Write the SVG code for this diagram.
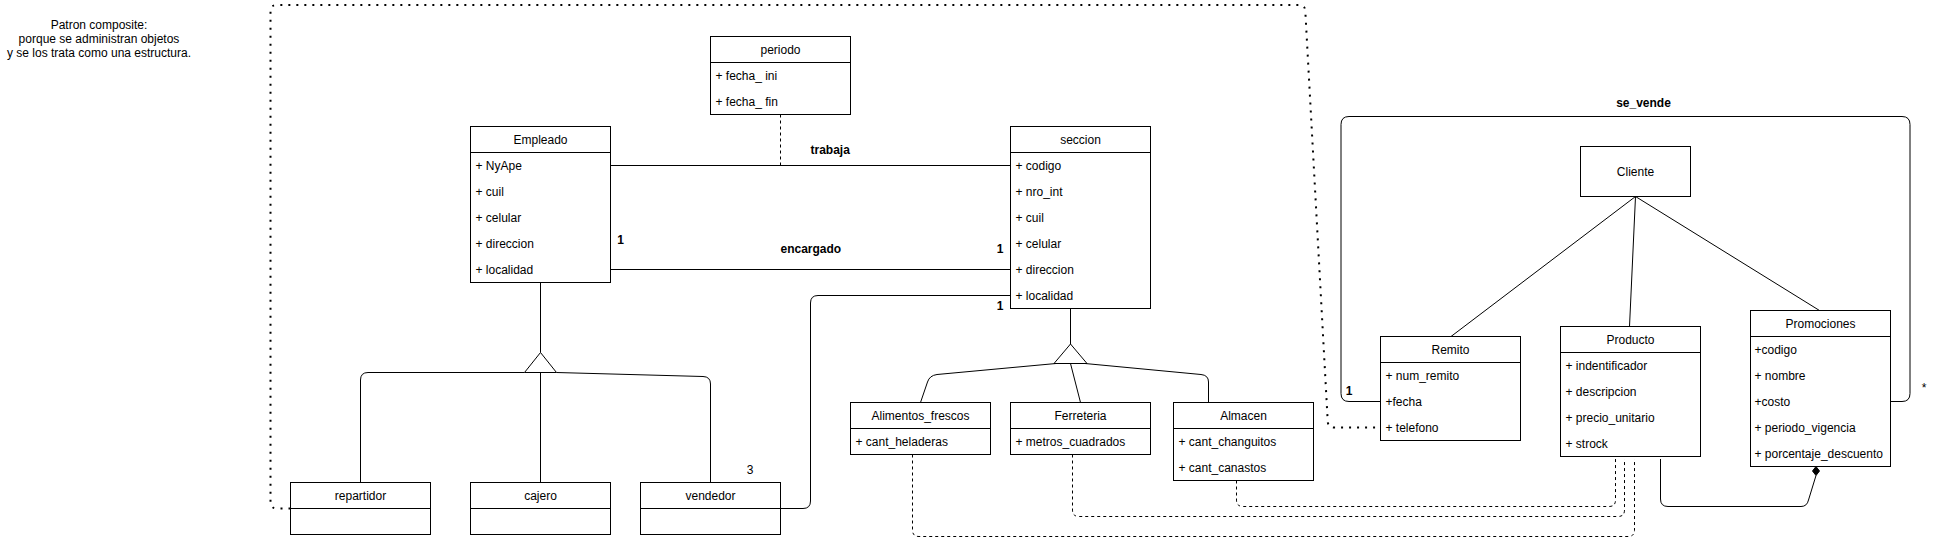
<svg xmlns="http://www.w3.org/2000/svg" width="1942" height="538" viewBox="0 0 1942 538">
<style>
text{font-family:"Liberation Sans",Arial,Helvetica,sans-serif;font-size:12px;fill:#000}
.h{text-anchor:middle}
.b{font-weight:bold}
.box{fill:#fff;stroke:#000;stroke-width:1}
.div{stroke:#000;stroke-width:1}
.ln{fill:none;stroke:#000;stroke-width:1}
.dash{fill:none;stroke:#000;stroke-width:1;stroke-dasharray:3 3}
.dot{fill:none;stroke:#000;stroke-width:2;stroke-dasharray:2 6}
.tri{fill:#fff;stroke:#000;stroke-width:1}
</style>
<rect width="1942" height="538" fill="#fff"/>
<text class="h" x="99" y="29">Patron composite:</text>
<text class="h" x="99" y="43">porque se administran objetos</text>
<text class="h" x="99" y="57">y se los trata como una estructura.</text>

<g id="connectors">
<path class="dot" d="M290.5,508.5 L277,508.5 Q270.5,508.5 270.5,502 L270.5,11 Q270.5,5 277,5 L1299,5 Q1305,5 1305.3,11 L1327.7,421 Q1328,427.5 1334,427.5 L1380.5,427.5"/>
<path class="ln" d="M610.5,165.5 L1010.5,165.5"/>
<path class="dash" d="M780.5,114.5 L780.5,165.5"/>
<path class="ln" d="M610.5,269.5 L1010.5,269.5"/>
<path class="ln" d="M780.5,508.5 L803,508.5 Q810.5,508.5 810.5,501 L810.5,303 Q810.5,295.5 818,295.5 L1010.5,295.5"/>
<path class="ln" d="M540.5,282.5 L540.5,352.5"/>
<path class="ln" d="M524.5,372.5 L368,372.5 Q360.5,372.5 360.5,380 L360.5,482.5"/>
<path class="ln" d="M540.5,372.5 L540.5,482.5"/>
<path class="ln" d="M556.5,372.5 L703,376.5 Q710.5,376.7 710.5,384 L710.5,482.5"/>
<polygon class="tri" points="540.5,352.5 556.5,372.5 524.5,372.5"/>
<path class="ln" d="M1070.5,308.5 L1070.5,344"/>
<path class="ln" d="M1056,363.5 L937,374.5 Q929.5,375.5 927.5,382 L920.5,402.5"/>
<path class="ln" d="M1070.5,363.5 L1080.5,402.5"/>
<path class="ln" d="M1085,363.5 L1201,374.5 Q1208.5,375.2 1208.5,382 L1208.5,402.5"/>
<polygon class="tri" points="1070.5,344 1087,363.5 1054,363.5"/>
<path class="dash" d="M912.5,454.5 L912.5,530 Q912.5,536.5 919,536.5 L1628,536.5 Q1634.5,536.5 1634.5,530 L1634.5,459"/>
<path class="dash" d="M1072.5,454.5 L1072.5,510 Q1072.5,516.5 1079,516.5 L1618,516.5 Q1624.5,516.5 1624.5,510 L1624.5,459"/>
<path class="dash" d="M1236.5,480.5 L1236.5,500 Q1236.5,506.5 1243,506.5 L1609,506.5 Q1615.5,506.5 1615.5,500 L1615.5,459"/>
<path class="ln" d="M1660.5,459 L1660.5,499 Q1660.5,506.5 1668,506.5 L1801,506.5 Q1807,506.5 1808.5,500 L1816,475.5"/>
<polygon fill="#000" stroke="#000" stroke-width="1" points="1816,466.5 1819.5,471 1816,475.5 1812.5,471"/>
<path class="ln" d="M1380.5,401.5 L1349,401.5 Q1341,401.5 1341,393.5 L1341,124.5 Q1341,116.5 1349,116.5 L1902,116.5 Q1910,116.5 1910,124.5 L1910,393.5 Q1910,401.5 1902,401.5 L1890.5,401.5"/>
<path class="ln" d="M1635.5,196.5 L1451,336.5"/>
<path class="ln" d="M1635.5,196.5 L1629.5,326.5"/>
<path class="ln" d="M1635.5,196.5 L1819.5,310.5"/>
<text class="b" x="810.5" y="154">trabaja</text>
<text class="b" x="780.5" y="252.5">encargado</text>
<text class="b h" x="620.5" y="244">1</text>
<text class="b h" x="1000" y="253">1</text>
<text class="b h" x="1000" y="310">1</text>
<text class="h" x="750" y="474">3</text>
<text class="b h" x="1643.5" y="107">se_vende</text>
<text class="b h" x="1349" y="395">1</text>
<text class="h" x="1924" y="392">*</text>
</g>

<g id="periodo">
<rect class="box" x="710.5" y="36.5" width="140" height="78"/>
<line class="div" x1="710.5" y1="62.5" x2="850.5" y2="62.5"/>
<text class="h" x="780.5" y="53.5">periodo</text>
<text x="715.5" y="79.5">+ fecha_ ini</text>
<text x="715.5" y="105.5">+ fecha_ fin</text>
</g>

<g id="empleado">
<rect class="box" x="470.5" y="126.5" width="140" height="156"/>
<line class="div" x1="470.5" y1="152.5" x2="610.5" y2="152.5"/>
<text class="h" x="540.5" y="143.5">Empleado</text>
<text x="475.5" y="169.5">+ NyApe</text>
<text x="475.5" y="195.5">+ cuil</text>
<text x="475.5" y="221.5">+ celular</text>
<text x="475.5" y="247.5">+ direccion</text>
<text x="475.5" y="273.5">+ localidad</text>
</g>

<g id="seccion">
<rect class="box" x="1010.5" y="126.5" width="140" height="182"/>
<line class="div" x1="1010.5" y1="152.5" x2="1150.5" y2="152.5"/>
<text class="h" x="1080.5" y="143.5">seccion</text>
<text x="1015.5" y="169.5">+ codigo</text>
<text x="1015.5" y="195.5">+ nro_int</text>
<text x="1015.5" y="221.5">+ cuil</text>
<text x="1015.5" y="247.5">+ celular</text>
<text x="1015.5" y="273.5">+ direccion</text>
<text x="1015.5" y="299.5">+ localidad</text>
</g>

<g id="repartidor">
<rect class="box" x="290.5" y="482.5" width="140" height="52"/>
<line class="div" x1="290.5" y1="508.5" x2="430.5" y2="508.5"/>
<text class="h" x="360.5" y="499.5">repartidor</text>
</g>

<g id="cajero">
<rect class="box" x="470.5" y="482.5" width="140" height="52"/>
<line class="div" x1="470.5" y1="508.5" x2="610.5" y2="508.5"/>
<text class="h" x="540.5" y="499.5">cajero</text>
</g>

<g id="vendedor">
<rect class="box" x="640.5" y="482.5" width="140" height="52"/>
<line class="div" x1="640.5" y1="508.5" x2="780.5" y2="508.5"/>
<text class="h" x="710.5" y="499.5">vendedor</text>
</g>

<g id="alimentos_frescos">
<rect class="box" x="850.5" y="402.5" width="140" height="52"/>
<line class="div" x1="850.5" y1="428.5" x2="990.5" y2="428.5"/>
<text class="h" x="920.5" y="419.5">Alimentos_frescos</text>
<text x="855.5" y="445.5">+ cant_heladeras</text>
</g>

<g id="ferreteria">
<rect class="box" x="1010.5" y="402.5" width="140" height="52"/>
<line class="div" x1="1010.5" y1="428.5" x2="1150.5" y2="428.5"/>
<text class="h" x="1080.5" y="419.5">Ferreteria</text>
<text x="1015.5" y="445.5">+ metros_cuadrados</text>
</g>

<g id="almacen">
<rect class="box" x="1173.5" y="402.5" width="140" height="78"/>
<line class="div" x1="1173.5" y1="428.5" x2="1313.5" y2="428.5"/>
<text class="h" x="1243.5" y="419.5">Almacen</text>
<text x="1178.5" y="445.5">+ cant_changuitos</text>
<text x="1178.5" y="471.5">+ cant_canastos</text>
</g>

<g id="cliente">
<rect class="box" x="1580.5" y="146.5" width="110" height="50"/>
<text class="h" x="1635.5" y="175.5">Cliente</text>
</g>

<g id="remito">
<rect class="box" x="1380.5" y="336.5" width="140" height="104"/>
<line class="div" x1="1380.5" y1="362.5" x2="1520.5" y2="362.5"/>
<text class="h" x="1450.5" y="353.5">Remito</text>
<text x="1385.5" y="379.5">+ num_remito</text>
<text x="1385.5" y="405.5">+fecha</text>
<text x="1385.5" y="431.5">+ telefono</text>
</g>

<g id="producto">
<rect class="box" x="1560.5" y="326.5" width="140" height="130"/>
<line class="div" x1="1560.5" y1="352.5" x2="1700.5" y2="352.5"/>
<text class="h" x="1630.5" y="343.5">Producto</text>
<text x="1565.5" y="369.5">+ indentificador</text>
<text x="1565.5" y="395.5">+ descripcion</text>
<text x="1565.5" y="421.5">+ precio_unitario</text>
<text x="1565.5" y="447.5">+ strock</text>
</g>

<g id="promociones">
<rect class="box" x="1750.5" y="310.5" width="140" height="156"/>
<line class="div" x1="1750.5" y1="336.5" x2="1890.5" y2="336.5"/>
<text class="h" x="1820.5" y="327.5">Promociones</text>
<text x="1754.5" y="353.5">+codigo</text>
<text x="1754.5" y="379.5">+ nombre</text>
<text x="1754.5" y="405.5">+costo</text>
<text x="1754.5" y="431.5">+ periodo_vigencia</text>
<text x="1754.5" y="457.5">+ porcentaje_descuento</text>
</g>
</svg>
